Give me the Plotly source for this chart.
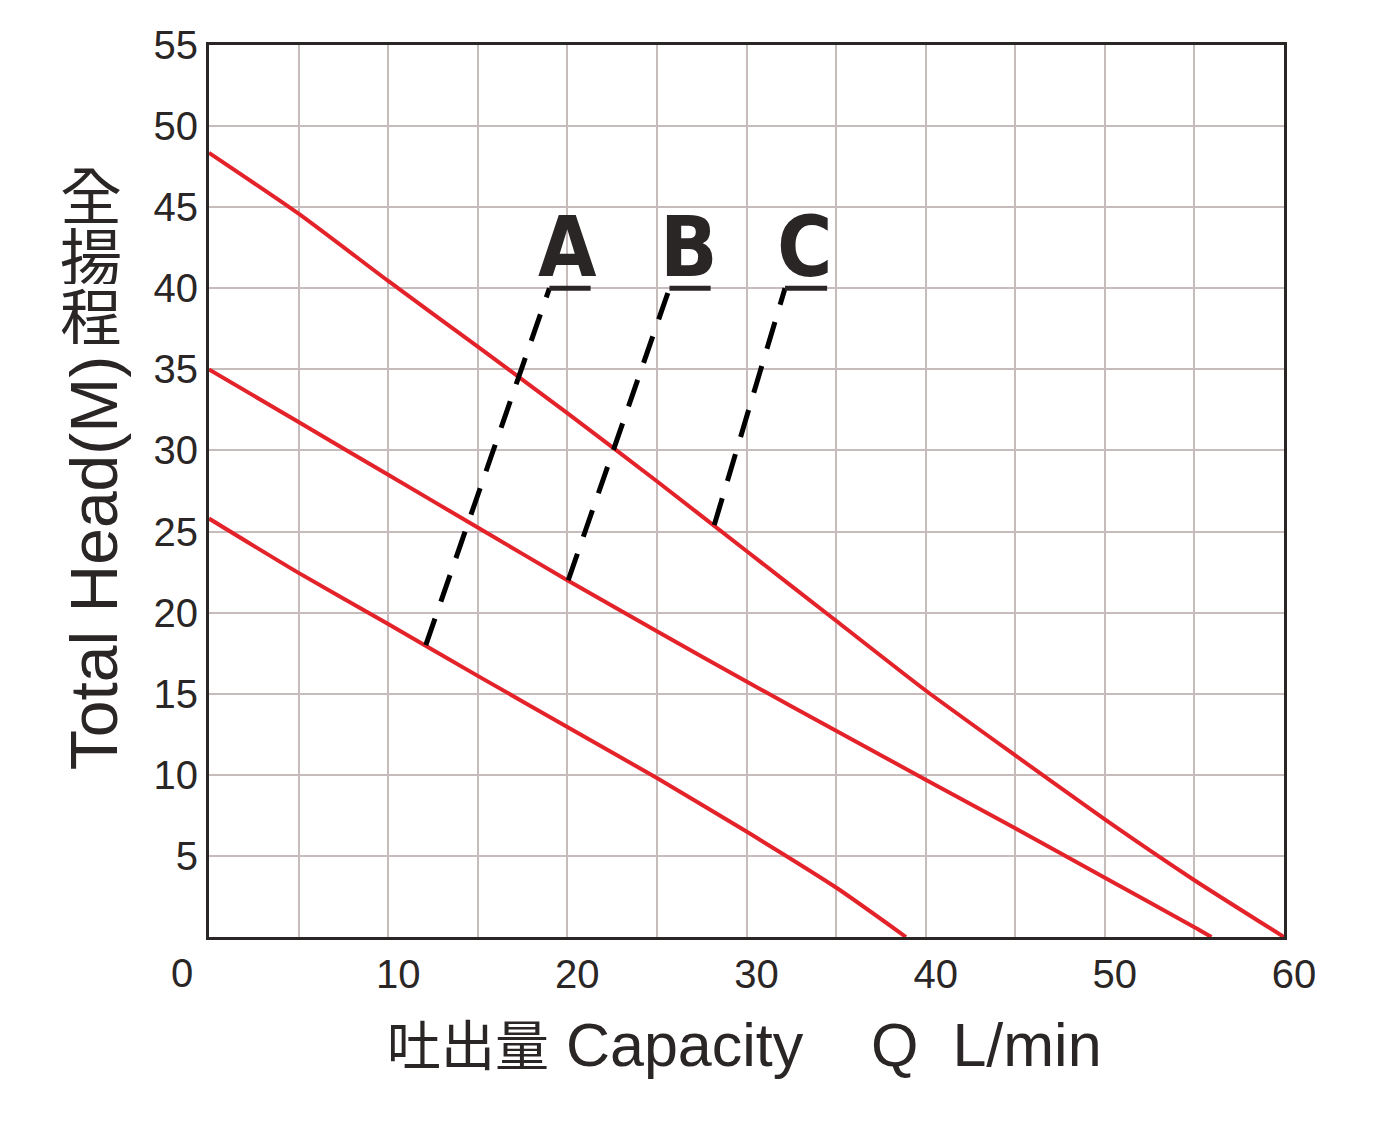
import plotly.graph_objects as go

# pump curves (capacity L/min, total head m)
capacity_upper = [0, 5, 10, 15, 20, 25, 30, 35, 40, 45, 50, 55, 60]
head_upper = [48.35, 44.6, 40.45, 36.4, 32.3, 28.1, 23.8, 19.5, 15.2, 11.2, 7.25, 3.5, 0.0]

capacity_middle = [0, 5, 10, 15, 20, 25, 30, 35, 40, 45, 50, 55, 55.95]
head_middle = [35.0, 31.75, 28.5, 25.25, 22.0, 18.85, 15.75, 12.72, 9.7, 6.7, 3.65, 0.6, 0.0]

capacity_lower = [0, 5, 10, 15, 20, 25, 30, 35, 38.9]
head_lower = [25.8, 22.45, 19.3, 16.1, 12.95, 9.8, 6.5, 3.05, 0.0]

# model leader lines: start on a curve, end under the letter
model_names = ["A", "B", "C"]
leader_x = [[12.1, 19.0], [20.05, 25.7], [28.2, 32.15]]
leader_y = [[18.0, 40.0], [22.0, 40.0], [25.4, 40.0]]
underline_x = [[19.0, 21.3], [25.7, 28.0], [32.15, 34.5]]
underline_y = [40.0, 40.0]
name_x = [20.0, 26.8, 33.25]

x_ticks = [10, 20, 30, 40, 50, 60]
y_ticks = [5, 10, 15, 20, 25, 30, 35, 40, 45, 50, 55]

RED = "#e4222a"
INK = "#2b2626"
GRID = "#c6bcbc"
LATIN = "Arial, Liberation Sans, Helvetica, sans-serif"
CJK = "Noto Sans CJK TC, Noto Sans CJK JP, sans-serif"

fig = go.Figure()

for xs, ys in [(capacity_upper, head_upper), (capacity_middle, head_middle), (capacity_lower, head_lower)]:
    fig.add_trace(go.Scatter(x=xs, y=ys, mode="lines",
                             line=dict(color=RED, width=4, shape="spline", smoothing=0.6),
                             hoverinfo="skip"))

for i, name in enumerate(model_names):
    fig.add_trace(go.Scatter(x=leader_x[i], y=leader_y[i], mode="lines",
                             line=dict(color="black", width=5, dash="28px,18px"),
                             hoverinfo="skip"))
    fig.add_trace(go.Scatter(x=underline_x[i], y=underline_y, mode="lines",
                             line=dict(color=INK, width=5), hoverinfo="skip"))
    fig.add_annotation(x=name_x[i], y=39.4, xref="x", yref="y", text="<b>" + name + "</b>",
                       showarrow=False, xanchor="center", yanchor="bottom",
                       font=dict(family="Liberation Sans Narrow, DejaVu Sans Condensed, sans-serif",
                                 size=84, color=INK))

fig.update_xaxes(range=[0, 60], tickvals=x_ticks, ticktext=[str(v) for v in x_ticks],
                 ticklabelshift=10, showgrid=True, gridcolor=GRID, gridwidth=2,
                 minor=dict(dtick=5, tick0=0, showgrid=True, gridcolor=GRID, gridwidth=2),
                 zeroline=False, showline=True, linecolor=INK, linewidth=3, mirror=True,
                 tickfont=dict(family=LATIN, size=40, color=INK))
fig.update_yaxes(range=[0, 55], tickvals=y_ticks, ticktext=[str(v) for v in y_ticks],
                 showgrid=True, gridcolor=GRID, gridwidth=2,
                 zeroline=False, showline=True, linecolor=INK, linewidth=3, mirror=True,
                 tickfont=dict(family=LATIN, size=40, color=INK))

# lone "0" under the corner
fig.add_annotation(x=0, y=0, xref="x", yref="y", text="0", showarrow=False,
                   xanchor="center", yanchor="middle",
                   xshift=-27, yshift=-36, font=dict(family=LATIN, size=40, color=INK))

# axis titles
fig.add_annotation(x=0.4986, y=-0.118, xref="paper", yref="paper", showarrow=False,
                   xanchor="center", yanchor="middle",
                   text="<span style='font-family:Noto Sans CJK TC;font-size:54px'>吐出量</span> Capacity\u00a0\u00a0\u00a0\u00a0Q\u00a0\u00a0L/min",
                   font=dict(family=LATIN, size=61, color=INK))
fig.add_annotation(x=-0.107, y=0.419, xref="paper", yref="paper", showarrow=False,
                   xanchor="center", yanchor="middle",
                   text="Total Head(M)", textangle=-90,
                   font=dict(family=LATIN, size=66, color=INK))
# upright characters stacked top to bottom
for ch, yp in zip(["全", "揚", "程"], [0.834, 0.766, 0.698]):
    fig.add_annotation(x=-0.11, y=yp, xref="paper", yref="paper", showarrow=False,
                       xanchor="center", yanchor="middle", height=60,
                       text=ch, font=dict(family=CJK, size=62, color=INK))

fig.update_layout(width=1384, height=1128, showlegend=False,
                  plot_bgcolor="white", paper_bgcolor="white",
                  margin=dict(l=201, r=108, t=37, b=199))

fig.write_html("out.html")
